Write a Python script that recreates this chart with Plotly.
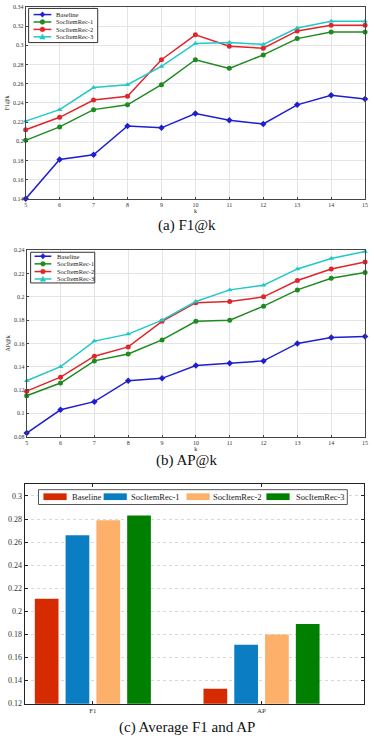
import plotly.graph_objects as go

k = list(range(5, 16))
series_names = ["Baseline", "SocItemRec-1", "SocItemRec-2", "SocItemRec-3"]

f1_baseline = [0.140, 0.181, 0.186, 0.216, 0.214, 0.229, 0.222, 0.218, 0.238, 0.248, 0.244]
f1_rec1 = [0.201, 0.215, 0.233, 0.238, 0.259, 0.285, 0.276, 0.290, 0.307, 0.314, 0.314]
f1_rec2 = [0.212, 0.225, 0.243, 0.247, 0.285, 0.311, 0.299, 0.297, 0.315, 0.321, 0.321]
f1_rec3 = [0.221, 0.233, 0.256, 0.259, 0.278, 0.302, 0.303, 0.301, 0.318, 0.325, 0.325]

ap_baseline = [0.083, 0.103, 0.110, 0.128, 0.130, 0.141, 0.143, 0.145, 0.160, 0.165, 0.166]
ap_rec1 = [0.115, 0.126, 0.145, 0.151, 0.163, 0.179, 0.180, 0.192, 0.206, 0.216, 0.221]
ap_rec2 = [0.119, 0.131, 0.149, 0.157, 0.179, 0.195, 0.196, 0.200, 0.214, 0.224, 0.230]
ap_rec3 = [0.128, 0.140, 0.162, 0.168, 0.180, 0.196, 0.206, 0.210, 0.224, 0.233, 0.239]

bar_categories = ["F1", "AP"]
bar_baseline = [0.211, 0.133]
bar_rec1 = [0.266, 0.171]
bar_rec2 = [0.279, 0.180]
bar_rec3 = [0.283, 0.189]

f1_ticks = [0.14, 0.16, 0.18, 0.20, 0.22, 0.24, 0.26, 0.28, 0.30, 0.32, 0.34]
f1_ticklabels = ["0.14", "0.16", "0.18", "0.2", "0.22", "0.24", "0.26", "0.28", "0.3", "0.32", "0.34"]
ap_ticks = [0.08, 0.10, 0.12, 0.14, 0.16, 0.18, 0.20, 0.22, 0.24]
ap_ticklabels = ["0.08", "0.1", "0.12", "0.14", "0.16", "0.18", "0.2", "0.22", "0.24"]
bar_ticks = [0.12, 0.14, 0.16, 0.18, 0.20, 0.22, 0.24, 0.26, 0.28, 0.30]
bar_ticklabels = ["0.12", "0.14", "0.16", "0.18", "0.2", "0.22", "0.24", "0.26", "0.28", "0.3"]

line_colors = ["#1F1FD0", "#1F8A1F", "#E0262A", "#22C7C7"]
line_symbols = ["diamond", "circle", "circle", "triangle-up"]
bar_colors = ["#D62A00", "#0B7DC3", "#FDB06A", "#007F00"]

W, H = 374, 740
SERIF = "Liberation Serif, Times New Roman, serif"


def px(x0, x1):
    return [x0 / W, x1 / W]


def py(top, bottom):
    return [1 - bottom / H, 1 - top / H]


def X(p):
    return p / W


def Y(p):
    return 1 - p / H


fig = go.Figure()

f1_data = [f1_baseline, f1_rec1, f1_rec2, f1_rec3]
ap_data = [ap_baseline, ap_rec1, ap_rec2, ap_rec3]

for i, name in enumerate(series_names):
    fig.add_trace(go.Scatter(
        x=k, y=f1_data[i], name=name, mode="lines+markers",
        line=dict(color=line_colors[i], width=1.5),
        marker=dict(symbol=line_symbols[i], size=5, color=line_colors[i]),
        xaxis="x", yaxis="y", cliponaxis=False, showlegend=False))
for i, name in enumerate(series_names):
    fig.add_trace(go.Scatter(
        x=k, y=ap_data[i], name=name, mode="lines+markers",
        line=dict(color=line_colors[i], width=1.5),
        marker=dict(symbol=line_symbols[i], size=5, color=line_colors[i]),
        xaxis="x2", yaxis="y2", cliponaxis=False, showlegend=False))

bar_data = [bar_baseline, bar_rec1, bar_rec2, bar_rec3]
for i, name in enumerate(series_names):
    fig.add_trace(go.Bar(
        x=[0, 1], y=bar_data[i], name=name,
        marker=dict(color=bar_colors[i], line=dict(width=0)),
        xaxis="x3", yaxis="y3", showlegend=False))

line_axis = dict(showline=True, linecolor="#444", linewidth=1, mirror=True,
                 showgrid=True, gridcolor="#E4E4E4", gridwidth=1, zeroline=False,
                 ticks="inside", ticklen=2, tickcolor="#444",
                 tickfont=dict(family=SERIF, size=6, color="#333"))

fig.update_layout(
    width=W, height=H, margin=dict(l=0, r=0, t=0, b=0),
    paper_bgcolor="white", plot_bgcolor="white",
    font=dict(family=SERIF, color="#222"),
    barmode="group", bargap=0.27, bargroupgap=0.23,
    showlegend=False,
    xaxis=dict(domain=px(24, 368), anchor="y", range=[5, 15], tickvals=k,
               title=dict(text="k", font=dict(size=6, family=SERIF), standoff=1), **line_axis),
    yaxis=dict(domain=py(4, 198), anchor="x", range=[0.14, 0.34], tickvals=f1_ticks,
               ticktext=f1_ticklabels,
               title=dict(text="F1@k", font=dict(size=6, family=SERIF), standoff=2), **line_axis),
    xaxis2=dict(domain=px(25, 368), anchor="y2", range=[5, 15], tickvals=k,
                title=dict(text="k", font=dict(size=6, family=SERIF), standoff=1), **line_axis),
    yaxis2=dict(domain=py(250, 438.3), anchor="x2", range=[0.08, 0.24], tickvals=ap_ticks,
                ticktext=ap_ticklabels,
                title=dict(text="AP@k", font=dict(size=6, family=SERIF), standoff=2), **line_axis),
    xaxis3=dict(domain=px(23, 367), anchor="y3", range=[-0.404, 1.608],
                tickvals=[0, 1], ticktext=bar_categories,
                showline=True, linecolor="#222", linewidth=1, mirror="ticks",
                ticks="inside", ticklen=3, tickcolor="#222", showgrid=False, zeroline=False,
                tickfont=dict(family=SERIF, size=7, color="#333")),
    yaxis3=dict(domain=py(486.7, 708.3), anchor="x3", range=[0.12, 0.31],
                tickvals=bar_ticks, ticktext=bar_ticklabels,
                showline=True, linecolor="#222", linewidth=1, mirror="ticks",
                ticks="inside", ticklen=3, tickcolor="#222", zeroline=False,
                showgrid=True, gridcolor="#D8D8D8", griddash="dot", gridwidth=1,
                tickfont=dict(family=SERIF, size=8, color="#333")),
)

shapes = []
annotations = []


def marker_shape(sym, cx, cy, color, r=2.4):
    if sym == "circle":
        return dict(type="circle", xref="paper", yref="paper",
                    x0=X(cx - r), x1=X(cx + r), y0=Y(cy + r), y1=Y(cy - r),
                    fillcolor=color, line=dict(color=color, width=0.5))
    if sym == "diamond":
        path = (f"M {X(cx)} {Y(cy - r - 0.4)} L {X(cx + r)} {Y(cy)} "
                f"L {X(cx)} {Y(cy + r + 0.4)} L {X(cx - r)} {Y(cy)} Z")
    else:
        path = (f"M {X(cx)} {Y(cy - r - 0.4)} L {X(cx + r + 0.3)} {Y(cy + r - 0.2)} "
                f"L {X(cx - r - 0.3)} {Y(cy + r - 0.2)} Z")
    return dict(type="path", xref="paper", yref="paper", path=path,
                fillcolor=color, line=dict(color=color, width=0.5))


def line_legend(box, rows, x_line0, x_line1, x_text, fsize):
    x0, y0, x1, y1 = box
    shapes.append(dict(type="rect", xref="paper", yref="paper",
                       x0=X(x0), x1=X(x1), y0=Y(y1), y1=Y(y0),
                       fillcolor="white", line=dict(color="#333", width=1), layer="above"))
    for i, name in enumerate(series_names):
        yy = rows[i]
        shapes.append(dict(type="line", xref="paper", yref="paper",
                           x0=X(x_line0), x1=X(x_line1), y0=Y(yy), y1=Y(yy),
                           line=dict(color=line_colors[i], width=1.5)))
        shapes.append(marker_shape(line_symbols[i], (x_line0 + x_line1) / 2, yy, line_colors[i]))
        annotations.append(dict(text=name, xref="paper", yref="paper", x=X(x_text), y=Y(yy),
                                xanchor="left", yanchor="middle", showarrow=False,
                                font=dict(family=SERIF, size=fsize, color="#222")))


line_legend((27, 5.5, 97, 40), [11.7, 19.2, 26.7, 34.2], 32, 50, 53, 6.5)
line_legend((29, 252, 94, 283), [256, 263.7, 271.5, 279], 33, 50, 54, 6.5)

# bar legend
shapes.append(dict(type="rect", xref="paper", yref="paper",
                   x0=X(37), x1=X(350), y0=Y(507), y1=Y(492),
                   fillcolor="white", line=dict(color="#555", width=1), layer="above"))
patch_x = [42, 103, 187, 268]
text_x = [68.5, 128.5, 212, 296]
for i, name in enumerate(series_names):
    shapes.append(dict(type="rect", xref="paper", yref="paper",
                       x0=X(patch_x[i]), x1=X(patch_x[i] + 23.5), y0=Y(502.5), y1=Y(495.7),
                       fillcolor=bar_colors[i], line=dict(width=0), layer="above"))
    annotations.append(dict(text=name, xref="paper", yref="paper", x=X(text_x[i]), y=Y(499.3),
                            xanchor="left", yanchor="middle", showarrow=False,
                            font=dict(family=SERIF, size=8.5, color="#222")))

captions = [("(a) F1@k", 225), ("(b) AP@k", 463), ("(c) Average F1 and AP", 732)]
for text, ypix in captions:
    annotations.append(dict(text=text, xref="paper", yref="paper", x=0.5, y=Y(ypix),
                            xanchor="center", yanchor="middle", showarrow=False,
                            font=dict(family=SERIF, size=15, color="#111")))

fig.update_layout(shapes=shapes, annotations=annotations)

fig.write_html("out.html")
